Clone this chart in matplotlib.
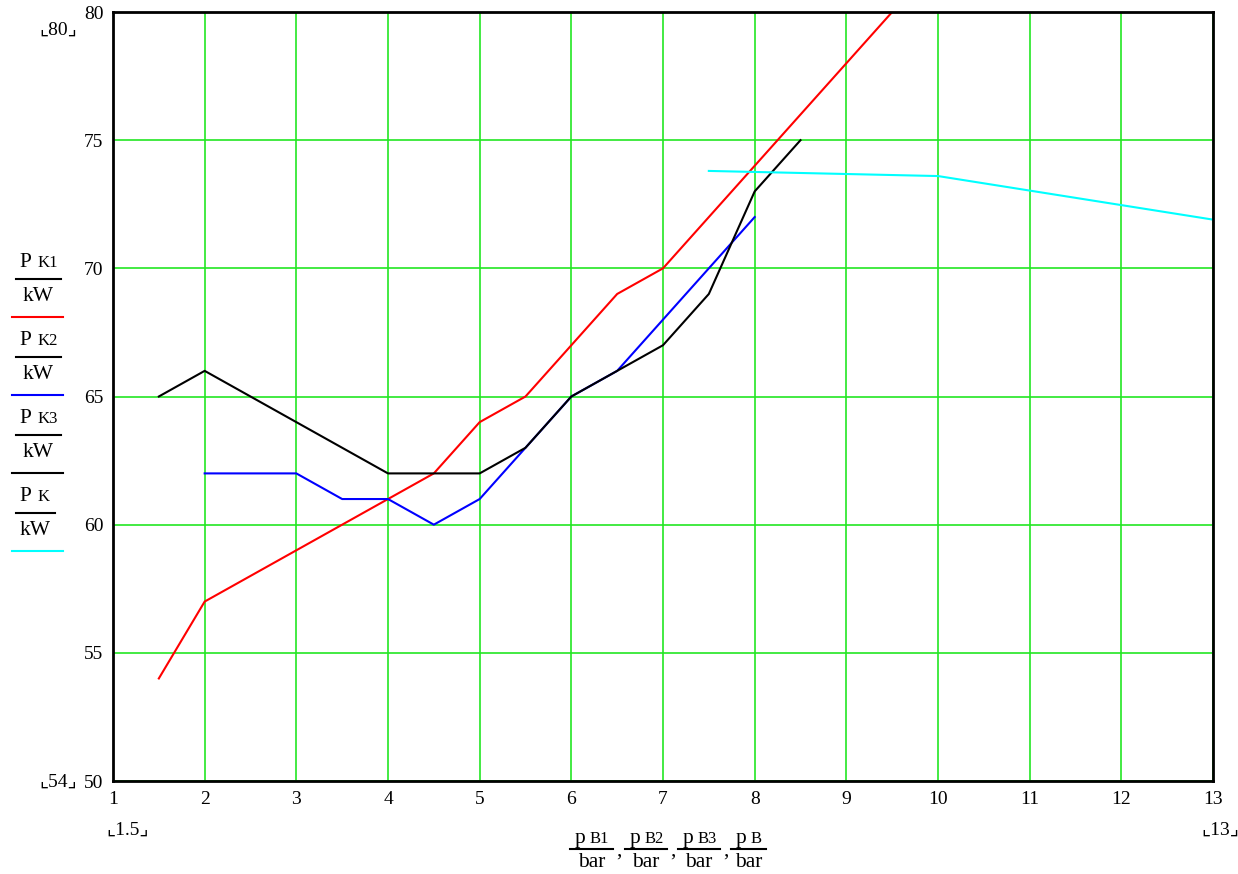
import numpy as np
import matplotlib
matplotlib.use("Agg")
from matplotlib import pyplot as plt
from matplotlib.lines import Line2D

plt.rcParams['font.family'] = ['Liberation Serif', 'DejaVu Sans']

## data
pB1 = [1.5, 2, 2.5, 3, 3.5, 4, 4.5, 5, 5.5, 6, 6.5, 7, 7.5, 8, 8.5, 9, 9.5]
PK1 = [54, 57, 58, 59, 60, 61, 62, 64, 65, 67, 69, 70, 72, 74, 76, 78, 80]

pB2 = [2, 2.5, 3, 3.5, 4, 4.5, 5, 5.5, 6, 6.5, 7, 7.5, 8]
PK2 = [62, 62, 62, 61, 61, 60, 61, 63, 65, 66, 68, 70, 72]

pB3 = [1.5, 2, 2.5, 3, 3.5, 4, 4.5, 5, 5.5, 6, 6.5, 7, 7.5, 8, 8.5]
PK3 = [65, 66, 65, 64, 63, 62, 62, 62, 63, 65, 66, 67, 69, 73, 75]

pB = [7.5, 10, 13]
PK = [73.8, 73.6, 71.9]

xticks = list(range(1, 14))
yticks = [50, 55, 60, 65, 70, 75, 80]

W, H = 1238, 874
fig = plt.figure(figsize=(W / 100, H / 100), dpi=100)
ax = fig.add_axes([113 / W, 1 - 781 / H, 1100 / W, 769 / H])

ax.plot(pB1, PK1, color='red', lw=1.5)
ax.plot(pB2, PK2, color='blue', lw=1.5)
ax.plot(pB3, PK3, color='black', lw=1.5)
ax.plot(pB, PK, color='cyan', lw=1.5)

ax.set_xlim(1, 13)
ax.set_ylim(50, 80)
ax.set_xticks(xticks)
ax.set_yticks(yticks)
ax.grid(True, color='#22e622', lw=1.2)
ax.set_axisbelow(True)
ax.tick_params(length=0, labelsize=14, pad=7)
for s in ax.spines.values():
    s.set_linewidth(2)
    s.set_color('black')


## pixel helpers
def fx(px):
    return px / W


def fy(py):
    return 1 - py / H


## legend on the left
leg = [('K1', 'red', 267), ('K2', 'blue', 345), ('K3', 'black', 423), ('K', 'cyan', 501)]
for sub, col, yb in leg:
    x1 = 61 if sub != 'K' else 55
    fig.text(fx(31), fy(yb), 'P', fontsize=15.5, ha='right', va='baseline')
    fig.text(fx(38), fy(yb), sub, fontsize=12, ha='left', va='baseline')
    fig.add_artist(Line2D([fx(16), fx(x1)], [fy(yb + 12), fy(yb + 12)],
                          color='black', lw=1.5))
    fig.text(fx((16 + x1) / 2), fy(yb + 34), 'kW', fontsize=15.5,
             ha='center', va='baseline')
    fig.add_artist(Line2D([fx(12), fx(63)], [fy(yb + 50), fy(yb + 50)],
                          color=col, lw=1.5))

## x axis label
parts = [('B1', 570, 613), ('B2', 625, 667), ('B3', 678, 720), ('B', 731, 766)]
for i, (sub, x0, x1) in enumerate(parts):
    fig.text(fx(x0 + 15), fy(843), 'p', fontsize=15.5, ha='right', va='baseline')
    fig.text(fx(x0 + 20), fy(843), sub, fontsize=12, ha='left', va='baseline')
    fig.add_artist(Line2D([fx(x0), fx(x1)], [fy(849), fy(849)], color='black', lw=1.5))
    fig.text(fx((x0 + x1) / 2), fy(867), 'bar', fontsize=15.5, ha='center', va='baseline')
    if i < 3:
        fig.text(fx(x1 + 6), fy(856), ',', fontsize=15.5, ha='center', va='baseline')

## range markers
marks = [('80', 58, 30), ('54', 58, 782), ('1.5', 128, 830), ('13', 1220, 830)]
for t, x, y in marks:
    fig.text(fx(x), fy(y), '\u231e' + t + '\u231f', fontsize=14,
             ha='center', va='center')

fig.savefig('out.png', dpi=100)
